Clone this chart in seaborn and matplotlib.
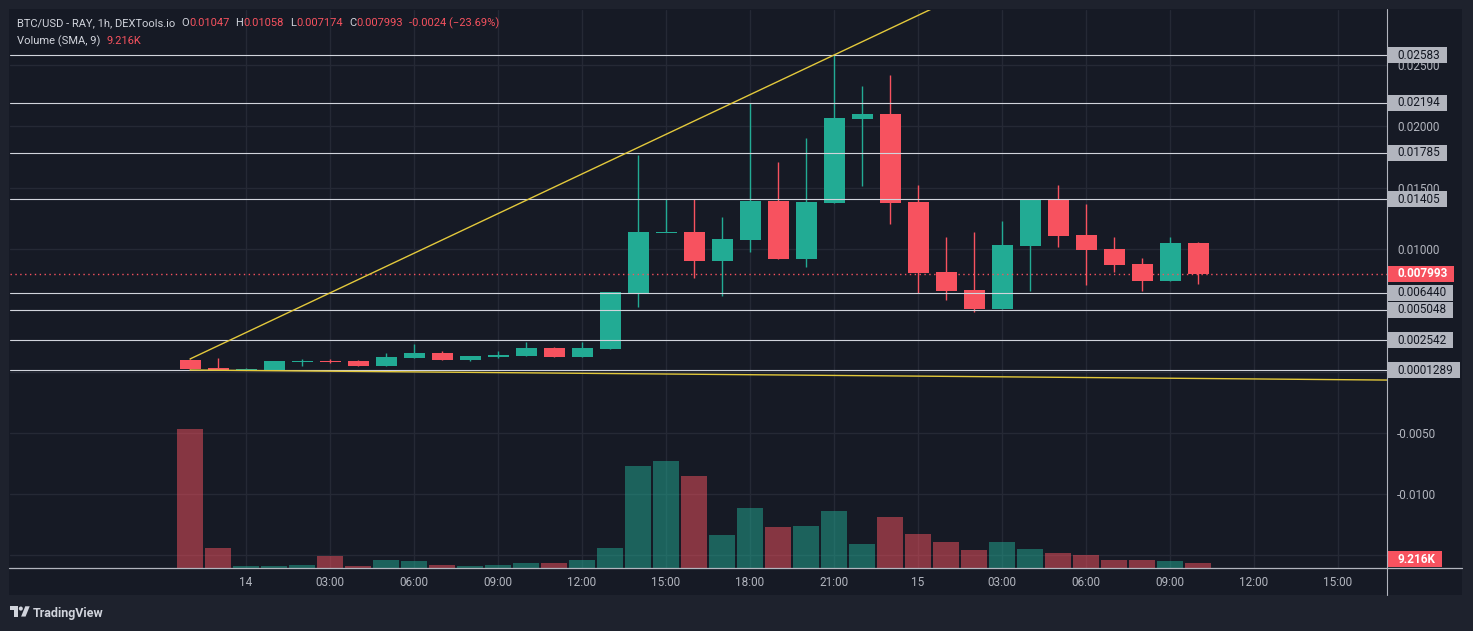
import matplotlib
matplotlib.use("Agg")
import matplotlib.pyplot as plt
import matplotlib.ticker as mticker
from matplotlib.patches import Rectangle, Polygon, Circle
from matplotlib.lines import Line2D
import numpy as np
import pandas as pd
import seaborn as sns

# ---------------- data ----------------
candle_index = list(range(37))
opens = [0.00095, 0.00029, 0.00013, 0.00013, 0.00084, 0.00085, 0.00086, 0.00048, 0.00111, 0.00152,
         0.00095, 0.00119, 0.00127, 0.00193, 0.00119, 0.00184, 0.00641, 0.01137, 0.01139, 0.00902,
         0.01074, 0.01392, 0.00919, 0.01376, 0.02061, 0.02102, 0.01384, 0.00813, 0.00666, 0.00511,
         0.01025, 0.01400, 0.01115, 0.01000, 0.00878, 0.00739, 0.01047]
highs = [0.00103, 0.00110, 0.00030, 0.00086, 0.00103, 0.00100, 0.00095, 0.00152, 0.00225, 0.00168,
         0.00127, 0.00168, 0.00242, 0.00200, 0.00242, 0.00650, 0.01766, 0.01408, 0.01406, 0.01261,
         0.02191, 0.01710, 0.01906, 0.02583, 0.02330, 0.02420, 0.01522, 0.01098, 0.01139, 0.01229,
         0.01400, 0.01522, 0.01367, 0.01098, 0.00927, 0.01098, 0.01058]
lows = [0.00021, 0.00013, 0.00013, 0.00013, 0.00048, 0.00070, 0.00048, 0.00048, 0.00111, 0.00095,
        0.00086, 0.00111, 0.00127, 0.00119, 0.00119, 0.00184, 0.00530, 0.01137, 0.00766, 0.00619,
        0.00976, 0.00919, 0.00853, 0.01376, 0.01514, 0.01204, 0.00641, 0.00584, 0.00486, 0.00511,
        0.00658, 0.01017, 0.00707, 0.00813, 0.00658, 0.00739, 0.007174]
closes = [0.00021, 0.00013, 0.00020, 0.00086, 0.00085, 0.00083, 0.00048, 0.00119, 0.00152, 0.00095,
          0.00127, 0.00135, 0.00193, 0.00119, 0.00193, 0.00650, 0.01139, 0.01140, 0.00902, 0.01082,
          0.01392, 0.00919, 0.01384, 0.02069, 0.02102, 0.01376, 0.00804, 0.00658, 0.00511, 0.01033,
          0.01400, 0.01106, 0.00992, 0.00870, 0.00739, 0.01049, 0.007993]
volumes_k = [256.2, 36.9, 3.7, 3.7, 5.5, 22.1, 3.7, 14.7, 12.9, 5.5,
             3.7, 5.5, 9.2, 9.2, 14.7, 36.9, 188.0, 197.2, 169.6, 60.8,
             110.6, 75.6, 77.4, 105.1, 44.2, 94.0, 62.7, 47.9, 33.2, 47.9,
             35.0, 27.6, 24.0, 14.7, 14.7, 12.9, 9.216]

level_values = [0.02583, 0.02194, 0.01785, 0.01405, 0.006440, 0.005048, 0.002542, 0.0001289]
level_labels = ["0.02583", "0.02194", "0.01785", "0.01405", "0.006440", "0.005048", "0.002542", "0.0001289"]

last_price = 0.007993
last_price_label = "0.007993"
last_volume_label = "9.216K"

trend_up_x = [0, 23]
trend_up_y = [0.00103, 0.02583]
trend_down_x = [0, 42.75]
trend_down_y = [0.0001289, -0.00069]

price_ticks = [-0.015, -0.010, -0.005, 0.0, 0.005, 0.010, 0.015, 0.020, 0.025]
time_tick_index = [2, 5, 8, 11, 14, 17, 20, 23, 26, 29, 32, 35, 38, 41]
time_tick_labels = ["14", "03:00", "06:00", "09:00", "12:00", "15:00", "18:00", "21:00",
                    "15", "03:00", "06:00", "09:00", "12:00", "15:00"]

header_title = "BTC/USD - RAY, 1h, DEXTools.io"
header_ohlc_names = ["O", "H", "L", "C"]
header_ohlc_values = ["0.01047", "0.01058", "0.007174", "0.007993"]
header_change = "-0.0024 (\u221223.69%)"
volume_title = "Volume (SMA, 9)"
volume_value = "9.216K"

# ---------------- style ----------------
W, H = 1473, 631
PL, PR, PT, PB = 10, 1387, 10, 568
OUTER = "#1e222d"
PANEL_BG = "#161a25"
GRID = "#252935"
UP = "#22ab94"
DOWN = "#f7525f"
TEXT = "#b2b5be"
HEAD = "#d1d4dc"
LEVEL = "#d1d4dc"
SEP = "#b2b5be"
YELLOW = "#e3c93c"
FS = 8.5
HFS = 8.0

sns.set_theme(style="dark")
plt.rcParams["font.family"] = ["Roboto", "DejaVu Sans"]

fig = plt.figure(figsize=(W / 100, H / 100), dpi=100, facecolor=OUTER)
renderer = fig.canvas.get_renderer()
fig.add_artist(Rectangle((9 / W, 1 - 595 / H), (1462 - 9) / W, (595 - 9) / H,
                         transform=fig.transFigure, facecolor=PANEL_BG,
                         edgecolor="none", zorder=-5))

ylim = (-0.016025, 0.029504)
xlim = (-6.43, 42.75)
px_per_unit = (PB - PT) / (ylim[1] - ylim[0])

ax = fig.add_axes([PL / W, 1 - PB / H, (PR - PL) / W, (PB - PT) / H])
ax.set_facecolor(PANEL_BG)

# volume (seaborn bars on an overlaid scale)
ax2 = ax.twinx()
df = pd.DataFrame({"idx": candle_index, "vol": volumes_k,
                   "dir": ["up" if c >= o else "down" for o, c in zip(opens, closes)]})
sns.barplot(data=df, x="idx", y="vol", hue="dir", palette={"up": UP, "down": DOWN},
            native_scale=True, dodge=False, width=0.96, saturation=1, errorbar=None,
            legend=False, alpha=0.5, linewidth=0, ax=ax2)
ax2.set_ylim(0, max(volumes_k) * 4.0)
ax2.yaxis.set_visible(False)
ax2.set_xlabel("")
ax2.set_ylabel("")
for s in ax2.spines.values():
    s.set_visible(False)
ax2.patch.set_visible(False)

vol_px = volumes_k[-1] / ax2.get_ylim()[1] * (PB - PT)
vol_center_px = max(vol_px, 8.5)
vol_label_y = ylim[0] + vol_center_px / px_per_unit
box_centers = list(level_values) + [last_price, vol_label_y]


def tick_fmt(v, p):
    # ticks that sit behind a price-scale box are not visible
    for c in box_centers:
        if abs(v - c) * px_per_unit < 6:
            return ""
    return f"{v:.4f}" if v < -1e-12 else f"{abs(v):.5f}"


ax.set_xlim(xlim)
ax.set_ylim(ylim)
ax.set_xticks(time_tick_index, time_tick_labels)
ax.set_yticks(price_ticks)
ax.yaxis.tick_right()
ax.yaxis.set_major_formatter(mticker.FuncFormatter(tick_fmt))
ax.grid(True, color=GRID, lw=1)
ax.set_axisbelow(True)
ax.tick_params(axis="both", length=0, colors=TEXT, labelsize=FS)
ax.tick_params(axis="x", pad=6)
ax.tick_params(axis="y", pad=7.2)
for s in ax.spines.values():
    s.set_visible(False)
ax.set_xlabel("")
ax.set_ylabel("")

min_body = 1.0 / px_per_unit

# candles
colors = [UP if c >= o else DOWN for o, c in zip(opens, closes)]
ax.vlines(candle_index, lows, highs, colors=colors, lw=1, zorder=3)
bottoms = []
heights = []
for o, c in zip(opens, closes):
    h = abs(c - o)
    if h < min_body:
        bottoms.append(min(o, c) - (min_body - h) / 2)
        heights.append(min_body)
    else:
        bottoms.append(min(o, c))
        heights.append(h)
ax.bar(candle_index, heights, bottom=bottoms, width=0.75, color=colors, linewidth=0, zorder=4)

# horizontal levels
for v in level_values:
    ax.axhline(v, color=LEVEL, lw=0.8, zorder=5)
ax.axhline(last_price, color=DOWN, lw=1, ls=(0, (1, 2.5)), zorder=5)

# trend lines
slope = (trend_up_y[1] - trend_up_y[0]) / (trend_up_x[1] - trend_up_x[0])
ax.plot([trend_up_x[0], xlim[1]], [trend_up_y[0], trend_up_y[0] + slope * (xlim[1] - trend_up_x[0])],
        color=YELLOW, lw=1.0, zorder=6)
ax.plot(trend_down_x, trend_down_y, color=YELLOW, lw=1.0, zorder=6)

# separators
fig.add_artist(Line2D([9 / W, 1462 / W], [1 - PB / H, 1 - PB / H], transform=fig.transFigure,
                      color=SEP, lw=0.9, zorder=10))
fig.add_artist(Line2D([PR / W, PR / W], [1 - 9 / H, 1 - 595 / H], transform=fig.transFigure,
                      color=SEP, lw=0.8, zorder=10))

# price scale labels
pax = fig.add_axes([PR / W, 1 - PB / H, 75 / W, (PB - PT) / H])
pax.set_xlim(0, 75)
pax.set_ylim(ylim)
pax.axis("off")
box_h = 16 / px_per_unit


def price_box(v, label, fc, tc, weight="normal"):
    t = pax.text(10, v, label, color=tc, fontsize=FS, va="center", ha="left",
                 fontweight=weight, zorder=7, clip_on=False)
    w = t.get_window_extent(renderer).width
    pax.add_patch(Rectangle((0, v - box_h / 2), w + 17, box_h, facecolor=fc,
                            edgecolor="none", zorder=6, clip_on=False))


for v, lab in zip(level_values, level_labels):
    price_box(v, lab, TEXT, "#131722")
price_box(last_price, last_price_label, DOWN, "white", "bold")
price_box(vol_label_y, last_volume_label, DOWN, "white", "bold")


# header
def seq_text(x_px, y_px, pieces):
    x = x_px
    for s, col, gap in pieces:
        t = fig.text(x / W, 1 - y_px / H, s, color=col, fontsize=HFS, va="center", ha="left", zorder=12)
        x += t.get_window_extent(renderer).width + gap


pieces = [(header_title, HEAD, 6)]
for n, v in zip(header_ohlc_names, header_ohlc_values):
    pieces.append((n, HEAD, 0.3))
    pieces.append((v, DOWN, 6))
pieces.append((header_change, DOWN, 0))
seq_text(17, 23, pieces)
seq_text(17, 41, [(volume_title, HEAD, 6), (volume_value, DOWN, 0)])

# TradingView logo
lax = fig.add_axes([10 / W, 1 - 620 / H, 20 / W, 16 / H])
lax.set_xlim(0, 36)
lax.set_ylim(28, 0)
lax.axis("off")
lax.add_patch(Polygon([(0, 4), (14, 4), (14, 22), (7, 22), (7, 11), (0, 11)], closed=True,
                      facecolor=HEAD, edgecolor="none"))
lax.add_patch(Polygon([(20, 22), (27.5, 4), (35.5, 4), (28, 22)], closed=True,
                      facecolor=HEAD, edgecolor="none"))
lax.add_patch(Circle((19.5, 8), 3.6, facecolor=HEAD, edgecolor="none"))
fig.text(33 / W, 1 - 613 / H, "TradingView", color=HEAD, fontsize=9, fontweight="bold",
         va="center", ha="left")

fig.savefig("out.png", dpi=100, facecolor=OUTER)
